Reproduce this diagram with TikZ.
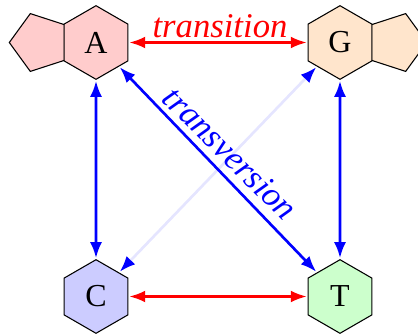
\documentclass[tikz,border=0pt]{standalone}
\usepackage{fontspec}
\setmainfont{Liberation Serif}
\usetikzlibrary{arrows.meta,shapes.geometric}

\begin{document}
\begin{tikzpicture}[
        x=0.75pt,y=0.75pt,
        font=\fontsize{26}{30}\selectfont,
        Ring/.style={%Style for the six sided ring
            draw,
            regular polygon,
            regular polygon sides=6,
            regular polygon rotate=30,
            minimum size=55.2pt,
            inner sep=0pt,
            outer sep=1pt,
            line width=0.8pt,
            font=\fontsize{24}{28}\selectfont,
            fill=#1
        },
        Penta/.style={%Style for the five sided ring
            draw,
            regular polygon,
            regular polygon sides=5,
            minimum size=45.6pt,
            inner sep=0pt,
            line width=0.8pt,
            fill=#1
        },
        Link/.style={%Style for the arrows
            {Latex[length=12pt,width=9pt,blue]}-{Latex[length=12pt,width=9pt,blue]},
            line width=2pt,
            #1
        },
        LinkRed/.style={%Style for the transitions
            {Latex[length=12pt,width=9pt]}-{Latex[length=12pt,width=9pt]},
            line width=2pt,
            red
        }
    ]
    \clip (0,0) rectangle (418,333);

    % purine rings
    \node[Penta=red!20, regular polygon rotate=90] (PA) at (39.7,290.5) {};
    \node[Penta=orange!20, regular polygon rotate=-90] (PG) at (396.3,290.5) {};

    % bases
    \node[Ring=red!20] (A) at (96,290.5) {A};
    \node[Ring=orange!20] (G) at (340,290.5) {G};
    \node[Ring=blue!20] (C) at (96,36.5) {C};
    \node[Ring=green!20] (T) at (340,36.5) {T};

    % transitions
    \draw[LinkRed] (A) -- node[above=-1pt,xshift=1.5pt] (LTS) {\itshape transition} (G);
    \draw[LinkRed] (C) -- (T);

    % transversions
    \draw[Link=blue] (A) -- (C);
    \draw[Link=blue] (G) -- (T);
    \draw[Link=blue!10] (C) -- (G);
    \draw[Link=blue] (A) -- node[sloped,above=2pt,pos=.49,rotate=1.5,text=blue] (LTV) {\itshape transversion} (T);
\end{tikzpicture}
\end{document}
